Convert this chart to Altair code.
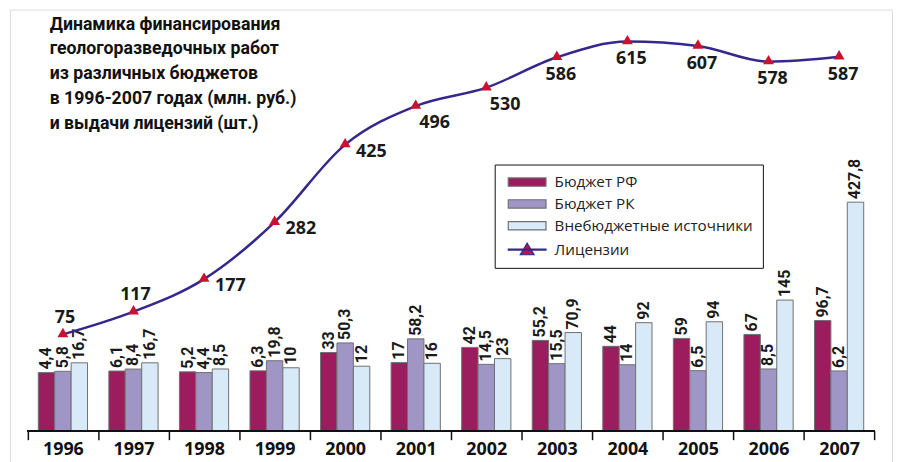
import altair as alt
import pandas as pd

# ---------------- data ----------------
years = ["1996", "1997", "1998", "1999", "2000", "2001",
         "2002", "2003", "2004", "2005", "2006", "2007"]
budget_rf = [4.4, 6.1, 5.2, 6.3, 33, 17, 42, 55.2, 44, 59, 67, 96.7]
budget_rk = [5.8, 8.4, 4.4, 19.8, 50.3, 58.2, 14.5, 15.5, 14, 6.5, 8.5, 6.2]
off_budget = [16.7, 16.7, 8.5, 10, 12, 16, 23, 70.9, 92, 94, 145, 427.8]
licenses = [75, 117, 177, 282, 425, 496, 530, 586, 615, 607, 578, 587]
bar_series = ["Бюджет РФ", "Бюджет РК", "Внебюджетные источники"]
line_series = "Лицензии"
title_lines = ["Динамика финансирования",
               "геологоразведочных работ",
               "из различных бюджетов",
               "в 1996-2007 годах (млн. руб.)",
               "и выдачи лицензий (шт.)"]


def ru(v):
    return f"{v:g}".replace(".", ",")


rows = []
for name, vals in zip(bar_series, [budget_rf, budget_rk, off_budget]):
    for y, v in zip(years, vals):
        rows.append({"year": y, "series": name, "value": v, "label": ru(v)})
bars_df = pd.DataFrame(rows)
line_df = pd.DataFrame({"year": years, "lic": licenses,
                        "label": [str(v) for v in licenses]})
legend_df = pd.DataFrame({"series": bar_series + [line_series]})
all_series = bar_series + [line_series]

# ---------------- style / geometry ----------------
VW, VH = 888, 470
NARROW = "Roboto, Open Sans, sans-serif"
SANS = "Open Sans, Noto Sans, sans-serif"
C_RF, C_RK, C_OFF = "#9b1d5d", "#a096c6", "#d8e9f8"
C_LINE, C_TRI = "#35288c", "#cc1030"

K = 0.75
PXU = 1.885
ZERO_Y = 371.2
AXIS_Y = 424.0


def inv(s):
    return (abs(s) ** (1 / K)) * (1 if s >= 0 else -1)


bar_top = inv(ZERO_Y / PXU)
bar_bot = inv((ZERO_Y - VH) / PXU)
bar_base = inv((ZERO_Y - AXIS_Y) / PXU)
bar_scale = alt.Scale(type="pow", exponent=K, domain=[bar_bot, bar_top],
                      zero=False, nice=False)

L0 = 368.0
LPX = 0.546
line_scale = alt.Scale(domain=[(L0 - VH) / LPX, L0 / LPX], zero=False, nice=False)

xscale = alt.Scale(paddingInner=0, paddingOuter=0.25)
xaxis = alt.Axis(title=None, orient="bottom", domain=False,
                 ticks=True, tickBand="extent",
                 tickSize=9, tickWidth=1.5, tickColor="#111", labelAngle=0,
                 labelFont=SANS, labelFontSize=18, labelFontWeight="bold",
                 labelColor="#111", labelPadding=1, offset=-46, grid=False)
xoff = alt.XOffset("series:N", scale=alt.Scale(domain=bar_series,
                                                 paddingInner=0, paddingOuter=0.65))

bars = alt.Chart(bars_df).mark_bar(stroke="#707070", strokeWidth=1, opacity=1).encode(
    x=alt.X("year:N", scale=xscale, axis=xaxis),
    xOffset=xoff,
    y=alt.Y("value:Q", scale=bar_scale, axis=None),
    y2=alt.Y2(datum=bar_base),
    color=alt.Color("series:N", scale=alt.Scale(domain=bar_series,
                                                range=[C_RF, C_RK, C_OFF]), legend=None),
)

bar_labels = alt.Chart(bars_df).mark_text(
    angle=270, align="left", baseline="middle", dx=3,
    font=NARROW, fontSize=16, fontWeight="bold", color="#1a1a1a",
).encode(
    x=alt.X("year:N", scale=xscale),
    xOffset=xoff,
    y=alt.Y("value:Q", scale=bar_scale, axis=None),
    text="label:N",
)

axis_line = alt.Chart(line_df).mark_rule(color="#111", strokeWidth=1.5).encode(
    x=alt.X(datum="1996", type="nominal", bandPosition=0, scale=xscale),
    x2=alt.X2(datum="2007", bandPosition=1),
    y=alt.Y(datum=bar_base, scale=bar_scale, axis=None),
)

lx = alt.X("year:N", scale=xscale)
ly = alt.Y("lic:Q", scale=line_scale, axis=None)

line = alt.Chart(line_df).mark_line(color=C_LINE, strokeWidth=2.5,
                                    interpolate="monotone").encode(x=lx, y=ly)
tri = alt.Chart(line_df).mark_point(shape="triangle-up", filled=True, color=C_TRI,
                                    size=120, opacity=1, yOffset=-2).encode(x=lx, y=ly)

lab_style = dict(font=SANS, fontSize=18, fontWeight="bold", color="#1a1a1a",
                 baseline="middle")
lab_a = alt.Chart(line_df).transform_filter("datum.year <= '1997'").mark_text(
    align="center", dy=-17, dx=2, **lab_style).encode(x=lx, y=ly, text="label:N")
lab_b = alt.Chart(line_df).transform_filter(
    "datum.year >= '1998' && datum.year <= '2000'").mark_text(
    align="left", dx=11, dy=7, **lab_style).encode(x=lx, y=ly, text="label:N")
lab_c1 = alt.Chart(line_df).transform_filter(
    "datum.year >= '2001' && datum.year <= '2002'").mark_text(
    align="center", dx=19, dy=17, **lab_style).encode(x=lx, y=ly, text="label:N")
lab_c2 = alt.Chart(line_df).transform_filter("datum.year >= '2003'").mark_text(
    align="center", dx=4, dy=18, **lab_style).encode(x=lx, y=ly, text="label:N")

RECT = "M-1,-1.05H8.5V1.05H-1Z"
LINE_TRI = "M-1,-0.12H8.5V0.12H-1Z M2,1.3L3.75,-1.6L5.5,1.3Z"
leg = alt.Legend(title=None, orient="none", legendX=488, legendY=156,
                 fillColor="white", strokeColor="#111", padding=10,
                 symbolSize=64, symbolStrokeWidth=1.2, labelOffset=35,
                 labelFont=SANS, labelFontSize=15.3, labelColor="#222",
                 rowPadding=6, labelLimit=400)
legend_layer = alt.Chart(legend_df).transform_filter("false").mark_point(
    filled=True, opacity=1).encode(
    color=alt.Color("series:N", scale=alt.Scale(domain=all_series,
                    range=[C_RF, C_RK, C_OFF, C_TRI]), legend=leg),
    shape=alt.Shape("series:N", scale=alt.Scale(domain=all_series,
                    range=[RECT, RECT, RECT, LINE_TRI]), legend=leg),
    stroke=alt.Stroke("series:N", scale=alt.Scale(domain=all_series,
                      range=["#707070", "#707070", "#707070", C_LINE]), legend=leg),
)

chart = alt.layer(
    bars, bar_labels, axis_line, line, tri, lab_a, lab_b, lab_c1, lab_c2, legend_layer
).resolve_scale(
    y="independent", color="independent", shape="independent", stroke="independent"
).properties(
    width=VW, height=VH,
    padding={"left": 2, "top": 0, "right": 2, "bottom": 0},
    autosize=alt.AutoSizeParams(type="none"),
    title=alt.TitleParams(text=title_lines, anchor="start", frame="group",
                          orient="top", baseline="top", offset=0, dx=40, dy=124,
                          font=NARROW, fontSize=17.8, fontWeight="bold",
                          color="#111", lineHeight=25),
).configure_view(stroke="#111", strokeWidth=2).configure(background="white")

chart.save("out.html", embed_options={"renderer": "svg", "actions": False})
